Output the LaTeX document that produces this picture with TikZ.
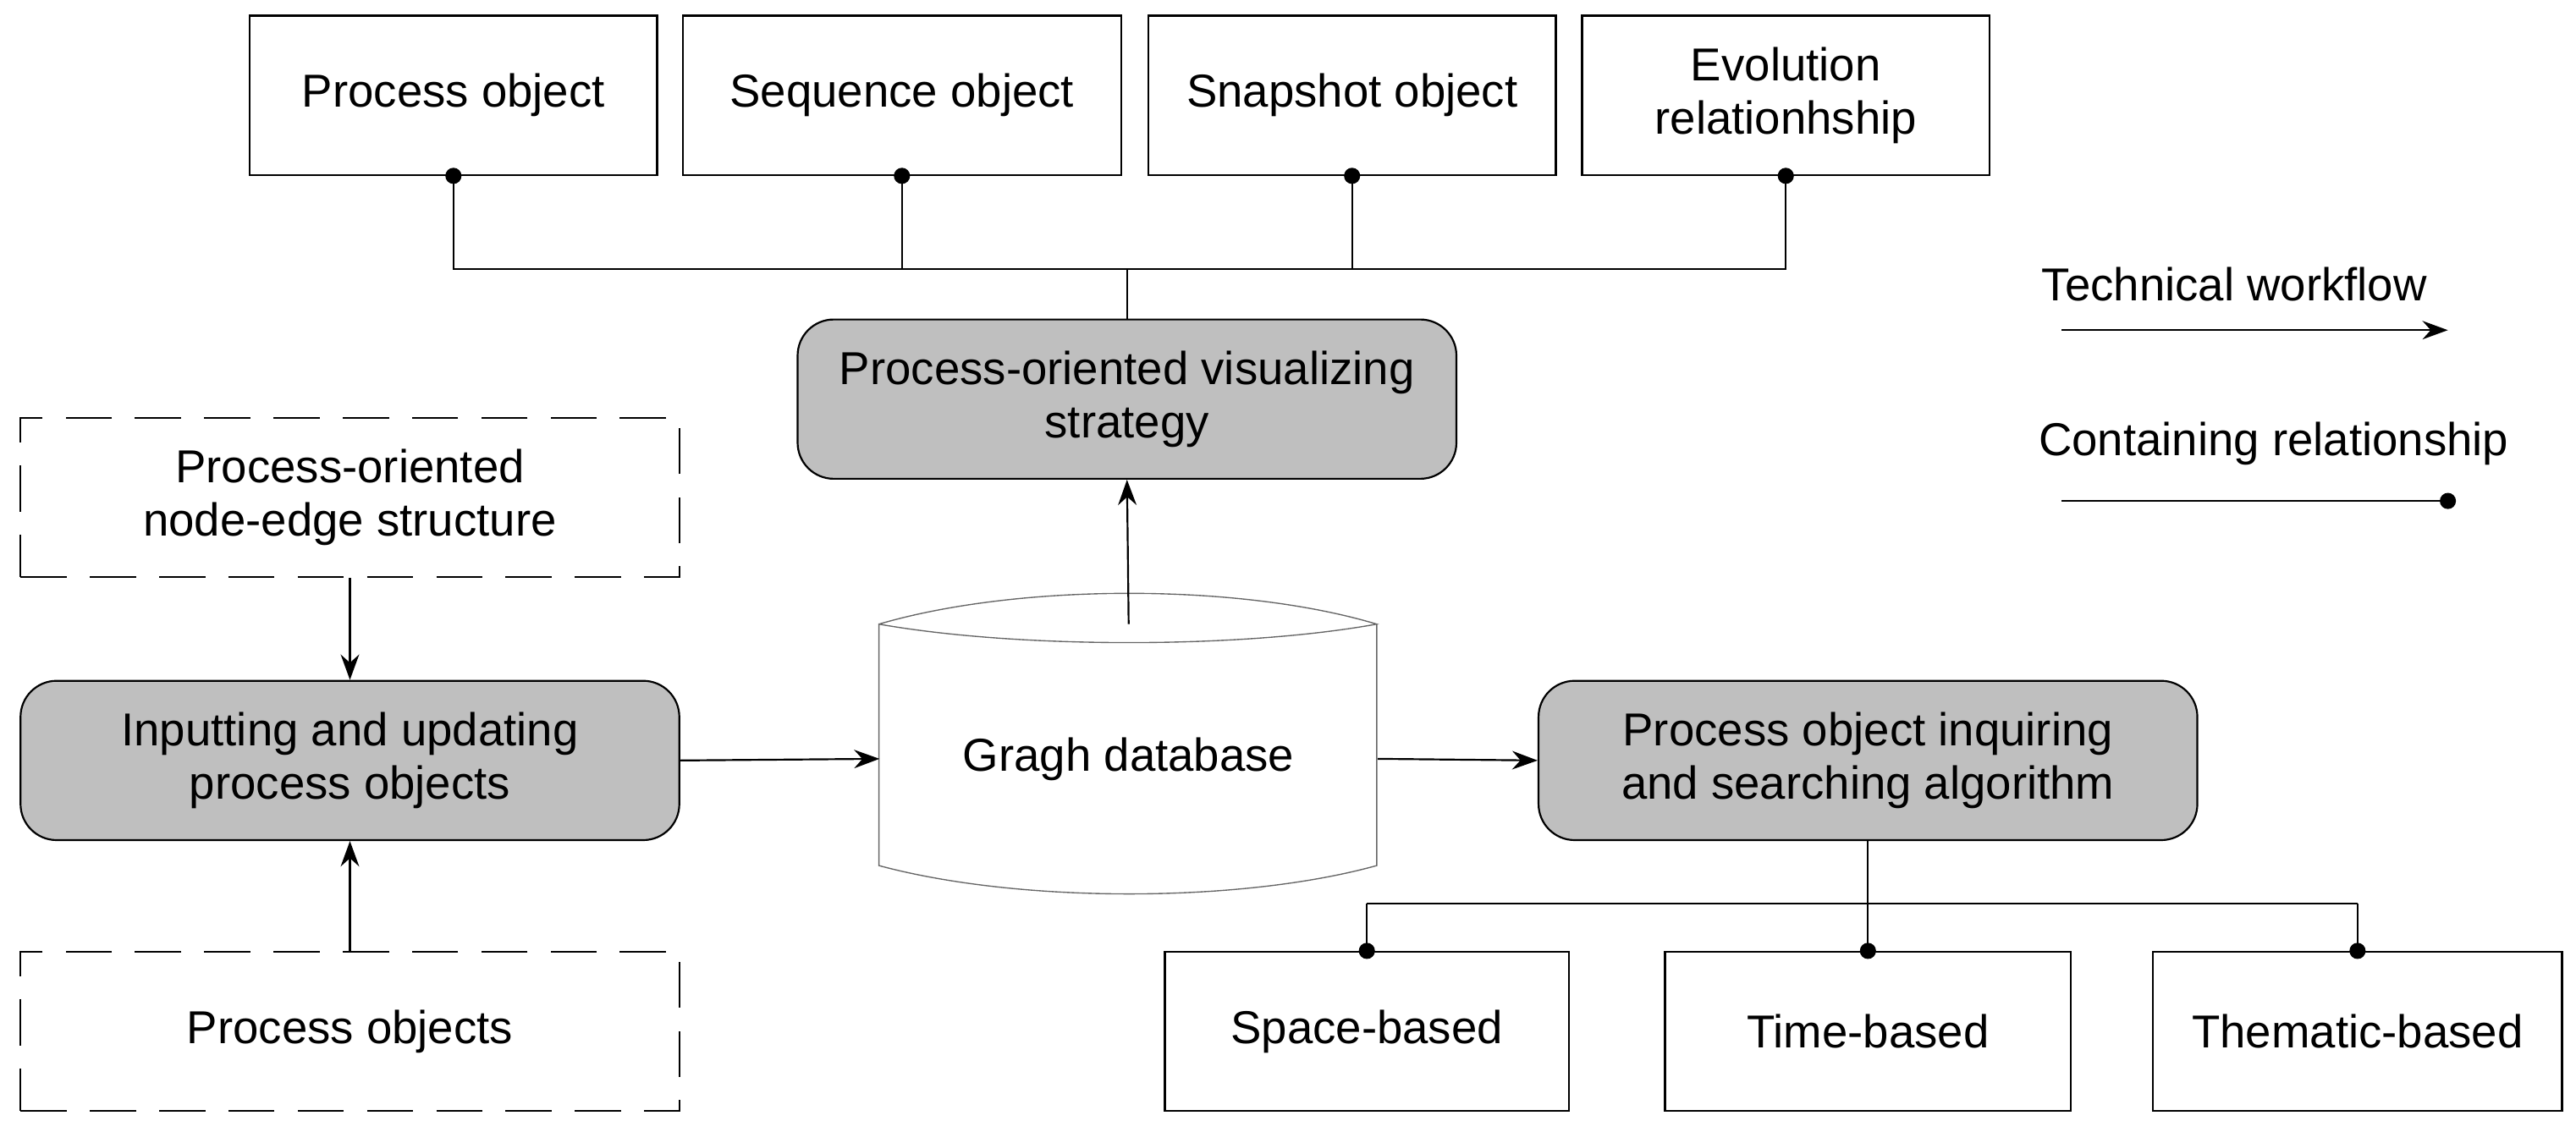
\documentclass[tikz,border=0pt]{standalone}
\usepackage{fontspec}
\setmainfont{Liberation Sans}
\usetikzlibrary{arrows.meta}
\begin{document}
\begin{tikzpicture}[x=0.05cm,y=-0.05cm,
  every node/.style={font=\fontsize{40}{46}\selectfont, align=center, inner sep=0pt},
  plain/.style={draw, line width=1.6pt, minimum width=#1*0.05cm, minimum height=97*0.05cm},
  plain/.default=248,
  dash/.style={}, 
  dbox/.style={draw, line width=1.6pt, dash pattern=on 40pt off 20pt, minimum width=401*0.05cm, minimum height=97*0.05cm},
  rbox/.style={draw, line width=1.6pt, fill=black!25, rounded corners=1.1cm, minimum width=401*0.05cm, minimum height=97*0.05cm},
  flow/.style={line width=1.6pt, -{Stealth[length=22pt,width=16pt]}},
  cont/.style={line width=1.6pt},
  dotc/.style={circle, fill=black, inner sep=0pt, minimum size=14pt}]
\useasboundingbox (0,0) rectangle (1568,689);
% top boxes
\node[plain=248] (p1) at (276,58) {Process object};
\node[plain=267] (p2) at (549,58) {Sequence object};
\node[plain=248] (p3) at (823,58) {Snapshot object};
\node[plain=248] (p4) at (1087,58) {Evolution\\relationhship};
\node[rbox] (vis) at (686,243) {Process-oriented visualizing\\strategy};
\node[dbox] (nes) at (213,303) {Process-oriented\\node-edge structure};
\node[rbox] (inp) at (213,463) {Inputting and updating\\process objects};
\node[dbox] (pos) at (213,628) {Process objects};
\node[rbox] (inq) at (1137,463) {Process object inquiring\\and searching algorithm};
\node[plain=246] (b1) at (832,628) {Space-based};
\node[plain=247] (b2) at (1137,628) {Time-based};
\node[plain=249] (b3) at (1435,628) {Thematic-based};
% cylinder
\node[minimum width=303*0.05cm, minimum height=165*0.05cm] (db) at (687,462) {Gragh database};
\draw[black!60, line width=1pt] (535,380) .. controls (620,355) and (755,355) .. (838,380)
  .. controls (755,395) and (620,395) .. (535,380) -- (535,527)
  .. controls (620,550) and (755,550) .. (838,527) -- (838,380);
% containment top
\coordinate (j) at (686,164);
\foreach \n in {p1,p2,p3,p4}{
  \draw[cont] (\n.south) node[dotc]{} |- (j);
}
\draw[cont] (p1.south |- j) -- (p4.south |- j);
\draw[cont] (j) -- (vis.north);
% containment bottom
\coordinate (k) at (1137,550);
\draw[cont] (inq.south) -- (k);
\draw[cont] (b1.north |- k) -- (b3.north |- k);
\foreach \n in {b1,b2,b3}{
  \draw[cont] (\n.north |- k) -- (\n.north) node[dotc]{};
}
% flows
\draw[flow] (687,380) -- (vis.south);
\draw[flow] (nes.south) -- (inp.north);
\draw[flow] (pos.north) -- (inp.south);
\draw[flow] (inp.east) -- (db.west);
\draw[flow] (db.east) -- (inq.west);
% legend
\node (l1) at (1360,173) {Technical workflow};
\coordinate (a1) at (1255,201); \coordinate (a2) at (1490,201);
\draw[flow] (a1) -- (a2);
\node (l2) at (1384,270) {Containing relationship};
\coordinate (c1) at (1255,305); \coordinate (c2) at (1490,305);
\draw[cont] (c1) -- (c2) node[dotc]{};
\end{tikzpicture}
\end{document}
